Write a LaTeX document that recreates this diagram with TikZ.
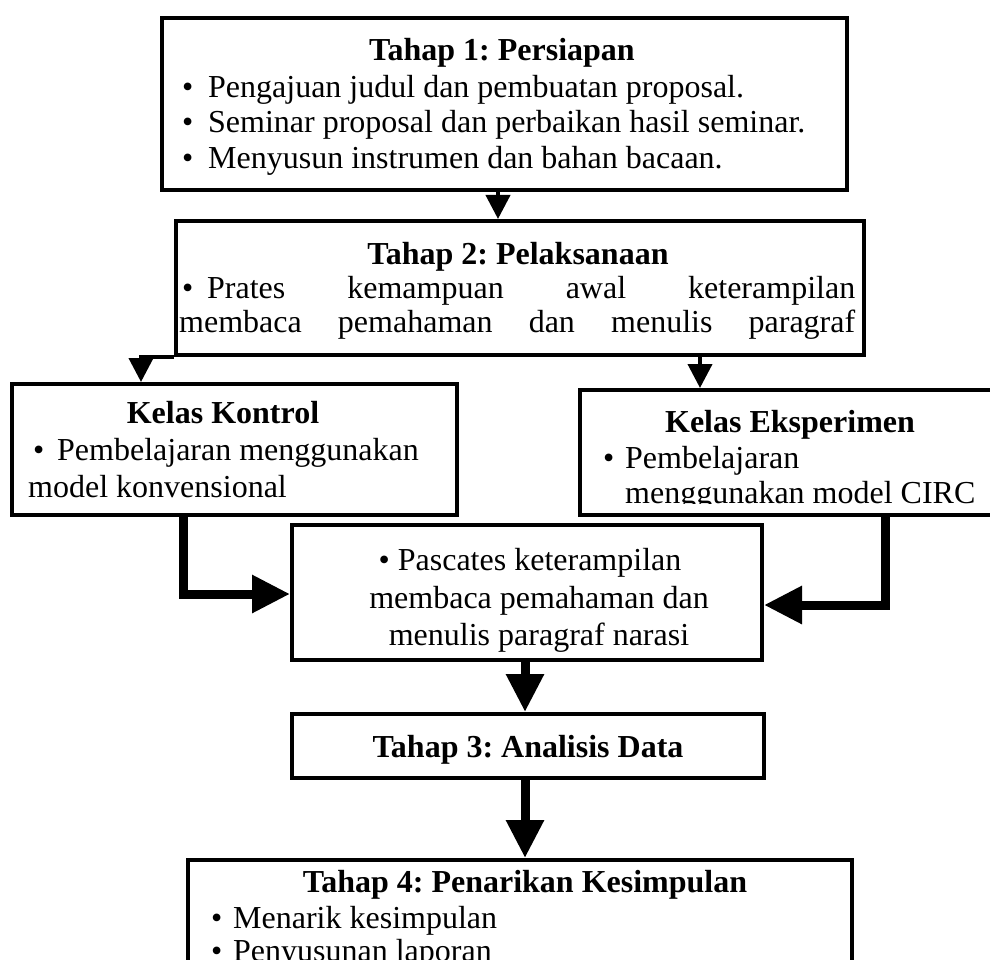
\documentclass[tikz,border=0pt]{standalone}
\usepackage{fontspec}
\setmainfont{Liberation Serif}
\usetikzlibrary{arrows.meta}
\newcommand{\bl}[1]{\makebox[#1][l]{\textbullet}}
\begin{document}
\begin{tikzpicture}[x=1pt,y=-1pt,
  box/.style={draw, line width=4pt, inner sep=0pt, anchor=north west},
  txt/.style={inner sep=0pt, font=\fontsize{32}{36}\selectfont\frenchspacing, anchor=mid west, yshift=-8pt},
  ttl/.style={inner sep=0pt, font=\fontsize{32}{36}\selectfont\bfseries\frenchspacing, anchor=mid, yshift=-8pt},
  ctr/.style={inner sep=0pt, font=\fontsize{32}{36}\selectfont\frenchspacing, anchor=mid, yshift=-8pt},
  conn/.style={line width=4pt, -{Triangle[length=24pt,width=24pt]}},
  heavy/.style={line width=9pt, -{Triangle[length=38pt,width=36pt]}},
]
\useasboundingbox (0,0) rectangle (990,960);
\fill[white] (0,0) rectangle (990,960);

% boxes
\node[box, minimum width=685pt, minimum height=172pt] (b1) at (160,16) {};
\node[box, minimum width=688pt, minimum height=134pt] (b2) at (174,219) {};
\node[box, minimum width=445pt, minimum height=131pt] (kk) at (10,382) {};
\node[box, minimum width=416pt, minimum height=125pt] (ke) at (578,388) {};
\node[box, minimum width=470pt, minimum height=135pt] (pc) at (290,523) {};
\node[box, minimum width=472pt, minimum height=64pt] (t3) at (290,712) {};
\node[box, minimum width=664pt, minimum height=160pt] (t4) at (186,858) {};

% helper coordinates
\coordinate (x141) at (141,0);
\coordinate (x183) at (183,0);
\coordinate (x498) at (498,0);
\coordinate (x525) at (525,0);
\coordinate (x700) at (700,0);
\coordinate (x885) at (885,0);
\coordinate (y594) at (0,594);
\coordinate (y605) at (0,605);

% texts
\node[ttl] (b1t) at (502,50) {Tahap 1: Persiapan};
\node[txt] (b1a) at (182,87) {\bl{26pt}Pengajuan judul dan pembuatan proposal.};
\node[txt] (b1b) at (182,122) {\bl{26pt}Seminar proposal dan perbaikan hasil seminar.};
\node[txt] (b1c) at (182,158) {\bl{26pt}Menyusun instrumen dan bahan bacaan.};

\node[ttl] (b2t) at (518,254) {Tahap 2: Pelaksanaan};
\node[txt] (b2a) at (182,288) {\makebox[673pt][s]{\bl{25pt}Prates kemampuan awal keterampilan}};
\node[txt] (b2b) at (179,322) {\makebox[676pt][s]{membaca pemahaman dan menulis paragraf}};

\node[ttl] (kkt) at (223,413) {Kelas Kontrol};
\node[txt] (kka) at (33,450) {\bl{24pt}Pembelajaran menggunakan};
\node[txt] (kkb) at (28,487) {model konvensional};

\node[ttl] (ket) at (790,422) {Kelas Eksperimen};
\node[txt] (kea) at (603,458) {\bl{22pt}Pembelajaran};
\begin{scope}
\clip (578,388) rectangle (990,503);
\node[txt] (keb) at (625,493) {menggunakan model CIRC};
\end{scope}

\node[ctr] (pca) at (530,560) {\textbullet\ Pascates keterampilan};
\node[ctr] (pcb) at (539,598) {membaca pemahaman dan};
\node[ctr] (pcc) at (539,635) {menulis paragraf narasi};

\begin{scope}
\clip (290,712) rectangle (762,764);
\node[ttl] (t3t) at (528,747) {Tahap 3: Analisis Data};
\end{scope}

\node[ttl] (t4t) at (525,882) {Tahap 4: Penarikan Kesimpulan};
\node[txt] (t4a) at (211,918) {\bl{22pt}Menarik kesimpulan};
\node[txt] (t4b) at (211,951) {\bl{22pt}Penyusunan laporan};

% connectors
\draw[conn] (b1.south -| x498) -- (b2.north -| x498);
\draw[conn] (b2.south west) -| (kk.north -| x141);
\draw[conn] (b2.south -| x700) -- (ke.north -| x700);
\draw[heavy] (kk.south -| x183) |- (pc.west |- y594);
\draw[heavy] (ke.south -| x885) |- (pc.east |- y605);
\draw[heavy] (pc.south -| x525) -- (t3.north -| x525);
\draw[heavy] (t3.south -| x525) -- (t4.north -| x525);
\end{tikzpicture}
\end{document}
